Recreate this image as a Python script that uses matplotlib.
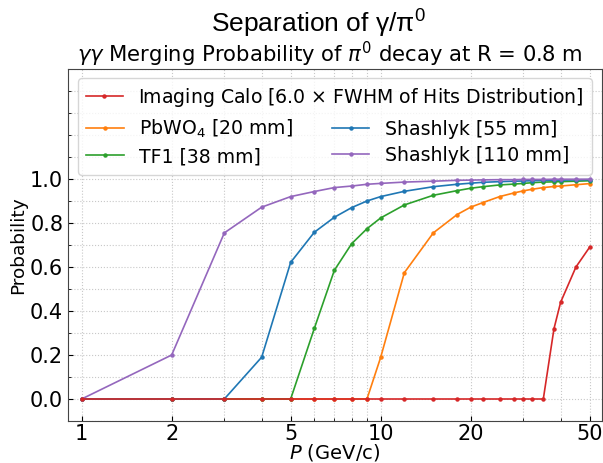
import numpy as np
import matplotlib
matplotlib.use('Agg')
import matplotlib.pyplot as plt
from matplotlib.lines import Line2D
from matplotlib.ticker import FixedLocator, ScalarFormatter, NullFormatter, MultipleLocator

plt.rcParams['mathtext.rm'] = 'Liberation Sans'

# momentum points (GeV/c)
p = [1, 2, 3, 4, 5, 6, 7, 8, 9, 10, 12, 15, 18, 20, 22, 25, 28, 30, 32, 35, 38, 40, 45, 50]

imaging = [0, 0, 0, 0, 0, 0, 0, 0, 0, 0, 0, 0, 0, 0, 0, 0, 0, 0, 0, 0,
           0.32, 0.44, 0.60, 0.69]
pbwo4 = [0, 0, 0, 0, 0, 0, 0, 0, 0, 0.189, 0.574, 0.755, 0.838, 0.872, 0.893, 0.92,
         0.937, 0.946, 0.953, 0.961, 0.966, 0.968, 0.974, 0.979]
tf1 = [0, 0, 0, 0, 0, 0.321, 0.585, 0.706, 0.774, 0.823, 0.882, 0.926, 0.947, 0.958,
       0.965, 0.973, 0.977, 0.98, 0.983, 0.986, 0.987, 0.988, 0.99, 0.992]
shash55 = [0, 0, 0, 0.19, 0.621, 0.758, 0.826, 0.87, 0.90, 0.92, 0.944, 0.965, 0.976,
           0.981, 0.985, 0.988, 0.99, 0.991, 0.992, 0.994, 0.995, 0.995, 0.996, 0.997]
shash110 = [0, 0.2, 0.755, 0.872, 0.92, 0.943, 0.961, 0.968, 0.976, 0.98, 0.986, 0.99,
            0.994, 0.995, 0.996, 0.997, 0.997, 0.998, 0.998, 0.998, 0.999, 0.999, 0.999, 0.999]

labels = ['Imaging Calo [6.0 $\\times$ FWHM of Hits Distribution]',
          'PbWO$_4$ [20 mm]', 'TF1 [38 mm]', 'Shashlyk [55 mm]', 'Shashlyk [110 mm]']
colors = ['tab:red', 'tab:orange', 'tab:green', 'tab:blue', 'tab:purple']

fig = plt.figure(figsize=(6.03, 4.63), dpi=100)
ax = fig.add_axes([68/603, 1 - 421/463, 534/603, 352/463])

kw = dict(marker='o', markersize=2.2, linewidth=1.2)
l_pb, = ax.plot(p, pbwo4, color=colors[1], label=labels[1], **kw)
l_tf, = ax.plot(p, tf1, color=colors[2], label=labels[2], **kw)
l_55, = ax.plot(p, shash55, color=colors[3], label=labels[3], **kw)
l_110, = ax.plot(p, shash110, color=colors[4], label=labels[4], **kw)
l_im, = ax.plot(p, imaging, color=colors[0], label=labels[0], **kw)

ax.set_xscale('log')
ax.set_xlim(0.9, 55)
ax.set_ylim(-0.1, 1.5)
ax.xaxis.set_major_locator(FixedLocator([1, 2, 5, 10, 20, 50]))
ax.xaxis.set_major_formatter(ScalarFormatter())
ax.xaxis.set_minor_locator(FixedLocator([3, 4, 6, 7, 8, 9, 30, 40]))
ax.xaxis.set_minor_formatter(NullFormatter())
ax.set_yticks([0.0, 0.2, 0.4, 0.6, 0.8, 1.0])
ax.yaxis.set_minor_locator(MultipleLocator(0.1))
ax.tick_params(which='both', direction='in', labelsize=15)
ax.tick_params(axis='x', pad=2)
ax.grid(True, which='both', linestyle=':', color='#c8c8c8', linewidth=0.8)
for s in ax.spines.values():
    s.set_color('#444444')

ax.set_xlabel('$P$ (GeV/c)', fontsize=14, labelpad=-1.5)
ax.set_ylabel('Probability', fontsize=13.3, labelpad=2)
ax.set_title('$\\gamma\\gamma$ Merging Probability of $\\pi^0$ decay at R = 0.8 m',
             fontsize=15.2, pad=5, x=0.49)
fig.text(318/603, 1 - 31.7/463, 'Separation of \u03b3/\u03c0$^{\\mathrm{0}}$',
         fontsize=19, family='Liberation Sans', math_fontfamily='custom',
         ha='center', va='baseline')

blank = Line2D([], [], alpha=0)
leg1 = ax.legend([l_im, blank, blank], [labels[0], ' ', ' '], loc='upper left',
                 bbox_to_anchor=(0.0187, 0.974), borderaxespad=0, fontsize=13.6,
                 handlelength=2.0, labelspacing=0.55, borderpad=0.4)
ax.add_artist(leg1)
leg2 = ax.legend([l_pb, l_tf, l_55, l_110], [labels[1], labels[2], labels[3], labels[4]],
                 loc='upper left', bbox_to_anchor=(0.034, 0.862), borderaxespad=0,
                 fontsize=13.6, ncol=2, frameon=False, handlelength=2.0,
                 labelspacing=0.38, borderpad=0, columnspacing=2.05)

fig.savefig('out.png', dpi=100)
